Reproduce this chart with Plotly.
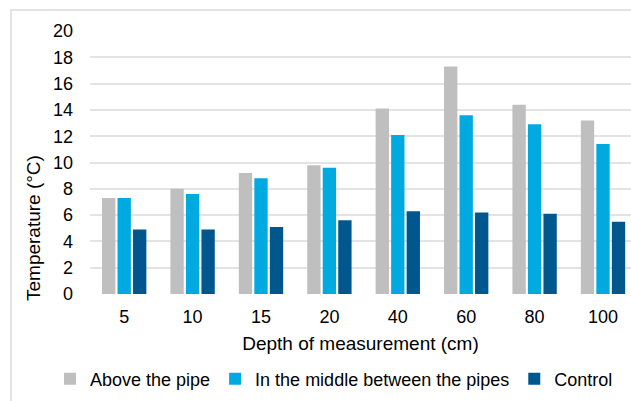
import plotly.graph_objects as go

# Depth of measurement (cm) and soil temperatures (°C)
depths = ["5", "10", "15", "20", "40", "60", "80", "100"]
above_pipe = [7.3, 8.0, 9.2, 9.8, 14.1, 17.3, 14.4, 13.2]
between_pipes = [7.3, 7.6, 8.8, 9.6, 12.1, 13.6, 12.9, 11.4]
control = [4.9, 4.9, 5.1, 5.6, 6.3, 6.2, 6.1, 5.5]

series_names = ["Above the pipe", "In the middle between the pipes", "Control"]
series_colors = ["#BFBFBF", "#00AAE0", "#00578D"]
y_ticks = [0, 2, 4, 6, 8, 10, 12, 14, 16, 18, 20]

FONT = "Liberation Sans, Arial, sans-serif"
W, H = 631, 401
ML, MR, MT, MB = 90, 0, 31, 107
plot_w = W - ML - MR
plot_h = H - MT - MB


def px_x(p):
    return (p - ML) / plot_w


def px_y(p):
    return (H - MB - p) / plot_h


fig = go.Figure()
for name, vals, col in zip(series_names, [above_pipe, between_pipes, control], series_colors):
    fig.add_trace(go.Bar(
        x=depths, y=vals, name=name,
        marker=dict(color=col, line=dict(width=0)),
    ))

fig.update_layout(
    width=W, height=H, autosize=False,
    margin=dict(l=ML, r=MR, t=MT, b=MB, pad=0),
    paper_bgcolor="white", plot_bgcolor="white",
    font=dict(family=FONT, size=18, color="#000000"),
    barmode="group", bargap=0.32, bargroupgap=0.14,
    showlegend=True,
    legend=dict(
        orientation="h", x=px_x(50), xanchor="left",
        y=px_y(379), yanchor="middle",
        font=dict(size=18, family=FONT, color="#000000"),
        itemwidth=30, bgcolor="rgba(0,0,0,0)",
    ),
    xaxis=dict(
        type="category", range=[-0.5, -0.5 + plot_w / 68.4],
        showgrid=False, zeroline=False, showline=False, ticks="",
        tickfont=dict(size=18), ticklabelstandoff=10,
        title=dict(text="Depth of measurement (cm)", font=dict(size=19), standoff=10),
    ),
    yaxis=dict(
        range=[0, 20], tickvals=y_ticks,
        showgrid=True, gridcolor="#E3E3E3", gridwidth=2,
        zeroline=False, showline=False, ticks="",
        tickfont=dict(size=18), ticklabelstandoff=16,
    ),
    shapes=[dict(
        type="rect", xref="paper", yref="paper",
        x0=px_x(11), x1=px_x(W + 20), y0=px_y(H + 20), y1=px_y(10),
        line=dict(color="#E3E3E3", width=2), fillcolor="rgba(0,0,0,0)",
        layer="below",
    )],
    annotations=[dict(
        text="Temperature (°C)", textangle=-90,
        xref="paper", yref="paper", x=px_x(33), y=px_y(228),
        xanchor="center", yanchor="middle", showarrow=False,
        font=dict(size=19, family=FONT, color="#000000"),
    )],
)

fig.write_html("out.html")
